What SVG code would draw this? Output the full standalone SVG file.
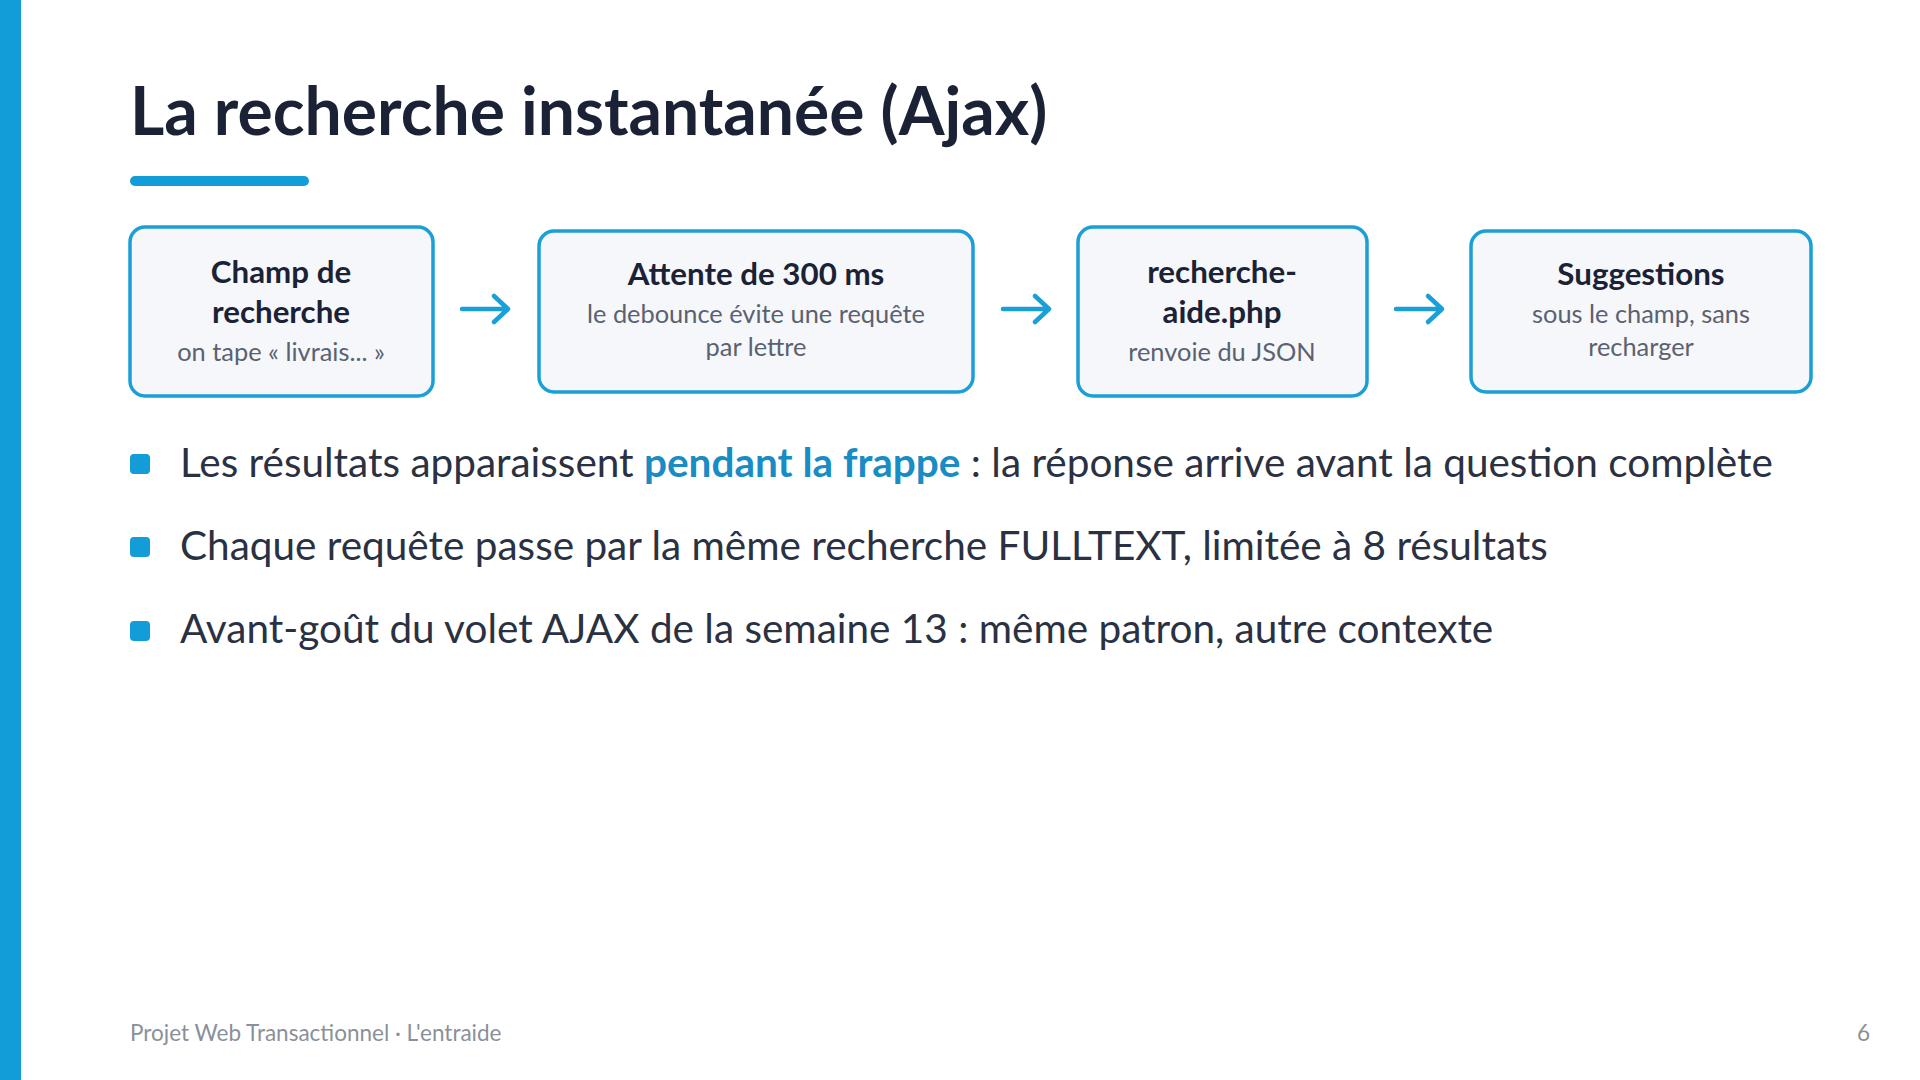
<svg xmlns="http://www.w3.org/2000/svg" width="1920" height="1080" viewBox="0 0 1920 1080">
<defs>
<style>
.t{font-family:Lato,"Open Sans",sans-serif}
.box{fill:#f5f7fb;stroke:#1a9fd6;stroke-width:3.5}
.h{font-family:Lato,sans-serif;font-weight:700;font-size:31.3px;fill:#1b2236;text-anchor:middle}
.s{font-family:Lato,sans-serif;font-size:25.4px;fill:#5a6270;text-anchor:middle}
.b{font-family:Lato,sans-serif;font-size:40.5px;fill:#2a3142}
.arr{stroke:#1a9fd6;stroke-width:4.5;fill:none;stroke-linecap:round;stroke-linejoin:round}
.bul{fill:#129cd8}
</style>
</defs>
<rect width="1920" height="1080" fill="#fff"/>
<rect x="0" y="0" width="21" height="1080" fill="#129cd8"/>
<text class="t" x="130" y="135" font-size="66" font-weight="700" fill="#1b2236">La recherche instantanée (Ajax)</text>
<rect x="130" y="176" width="179" height="10" rx="5" fill="#129cd8"/>
<g id="n1"><rect class="box" x="130" y="227" width="303" height="169" rx="15"/>
<text class="h" x="281" y="283">Champ de</text><text class="h" x="281" y="323">recherche</text><text class="s" x="281" y="361">on tape « livrais... »</text></g>
<g id="n2"><rect class="box" x="539" y="231" width="434" height="161" rx="15"/>
<text class="h" x="756" y="285">Attente de 300 ms</text><text class="s" x="756" y="323">le debounce évite une requête</text><text class="s" x="756" y="356">par lettre</text></g>
<g id="n3"><rect class="box" x="1078" y="227" width="289" height="169" rx="15"/>
<text class="h" x="1222" y="283">recherche-</text><text class="h" x="1222" y="323">aide.php</text><text class="s" x="1222" y="361">renvoie du JSON</text></g>
<g id="n4"><rect class="box" x="1471" y="231" width="340" height="161" rx="15"/>
<text class="h" x="1641" y="285">Suggestions</text><text class="s" x="1641" y="323">sous le champ, sans</text><text class="s" x="1641" y="356">recharger</text></g>
<g id="connectors">
<path class="arr" d="M462 309H508M494 296L508 309L494 322"/>
<path class="arr" d="M1003 309H1049M1035 296L1049 309L1035 322"/>
<path class="arr" d="M1396 309H1442M1428 296L1442 309L1428 322"/>
</g>
<rect class="bul" x="130" y="454" width="20" height="20" rx="4"/>
<rect class="bul" x="130" y="537" width="20" height="20" rx="4"/>
<rect class="bul" x="130" y="621" width="20" height="20" rx="4"/>
<text class="b" x="180" y="477">Les résultats apparaissent <tspan font-weight="700" fill="#1a8cc4">pendant la frappe</tspan> : la réponse arrive avant la question complète</text>
<text class="b" x="180" y="560">Chaque requête passe par la même recherche FULLTEXT, limitée à 8 résultats</text>
<text class="b" x="180" y="643">Avant-goût du volet AJAX de la semaine 13 : même patron, autre contexte</text>
<text class="t" x="130" y="1041" font-size="22.5" fill="#8a909a">Projet Web Transactionnel · L'entraide</text>
<text class="t" x="1870" y="1041" font-size="22.5" fill="#8a909a" text-anchor="end">6</text>
</svg>
